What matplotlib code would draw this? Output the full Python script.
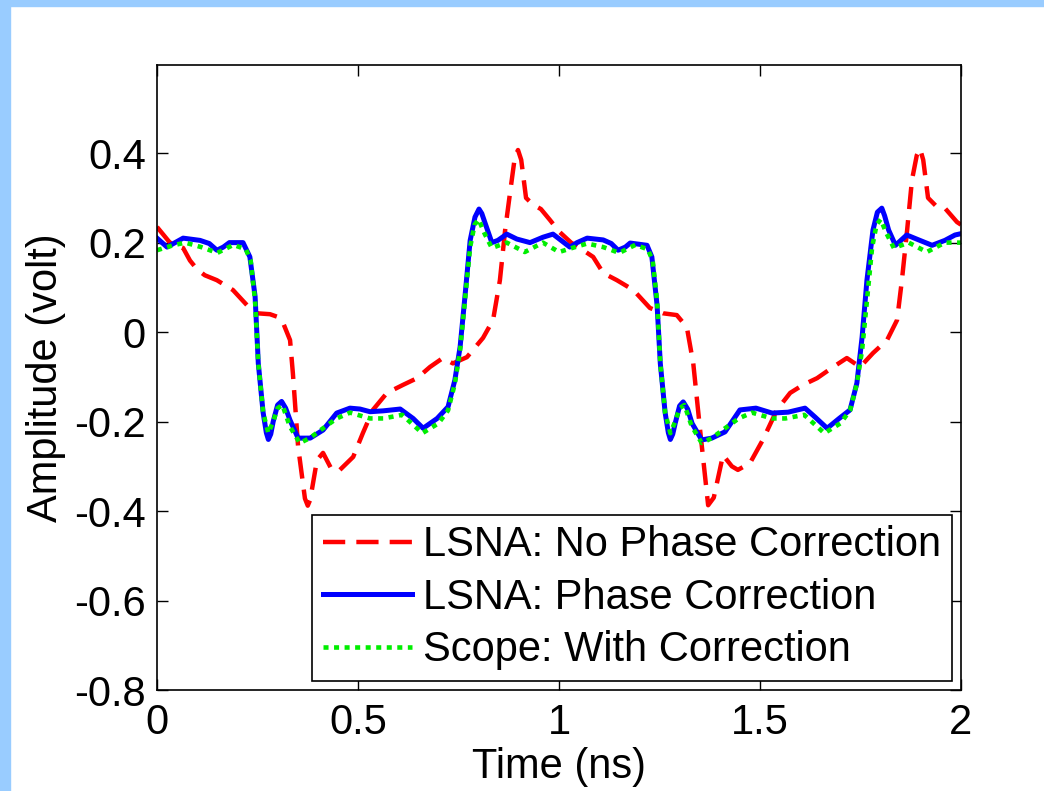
import matplotlib
matplotlib.use('Agg')
import matplotlib.pyplot as plt
from matplotlib.patches import Rectangle

# LSNA without phase correction (red dashed)
t_nopc = [0.0, 0.032, 0.065, 0.082, 0.1, 0.119, 0.149, 0.189, 0.224, 0.249, 0.281,
          0.3, 0.313, 0.331, 0.338, 0.351, 0.368, 0.375, 0.381, 0.398, 0.413, 0.435, 0.455,
          0.488, 0.512, 0.537, 0.572, 0.612, 0.647, 0.679, 0.711, 0.736, 0.771,
          0.811, 0.836, 0.853, 0.866, 0.878, 0.89, 0.898, 0.906, 0.918, 0.935, 0.955, 0.978,
          1.0, 1.03, 1.06, 1.085, 1.11, 1.144, 1.185, 1.226, 1.259, 1.293,
          1.318, 1.334, 1.351, 1.371, 1.385, 1.408, 1.43, 1.445, 1.475, 1.507,
          1.542, 1.575, 1.607, 1.642, 1.682, 1.716, 1.749, 1.781, 1.816, 1.841,
          1.853, 1.866, 1.878, 1.89, 1.898, 1.906, 1.918, 1.94, 1.96, 1.99, 2.0]
v_nopc = [0.235, 0.2, 0.188, 0.16, 0.14, 0.127, 0.116, 0.094, 0.06, 0.042, 0.04,
          0.034, 0.022, -0.018, -0.092, -0.256, -0.372, -0.388, -0.375, -0.286, -0.27, -0.308, -0.308,
          -0.279, -0.226, -0.174, -0.136, -0.118, -0.103, -0.078, -0.058, -0.07, -0.056,
          -0.013, 0.027, 0.116, 0.228, 0.31, 0.39, 0.407, 0.385, 0.3, 0.285, 0.275, 0.25,
          0.225, 0.2, 0.183, 0.168, 0.132, 0.116, 0.094, 0.054, 0.042, 0.038,
          0.011, -0.07, -0.219, -0.387, -0.37, -0.275, -0.3, -0.308, -0.293, -0.241,
          -0.174, -0.136, -0.118, -0.103, -0.078, -0.058, -0.078, -0.047, -0.018, 0.027,
          0.116, 0.228, 0.34, 0.395, 0.41, 0.385, 0.3, 0.28, 0.277, 0.246, 0.24]

# LSNA with phase correction (blue solid)
t_pc = [0.0, 0.025, 0.045, 0.065, 0.107, 0.13, 0.149, 0.165, 0.18, 0.214, 0.231, 0.244, 0.252,
        0.264, 0.272, 0.277, 0.283, 0.289, 0.3, 0.31, 0.32, 0.331, 0.351, 0.381, 0.413, 0.447, 0.48,
        0.505, 0.53, 0.563, 0.605, 0.637, 0.662, 0.697, 0.724, 0.741, 0.754,
        0.766, 0.779, 0.791, 0.801, 0.808, 0.816, 0.833, 0.848, 0.87, 0.895, 0.928,
        0.96, 0.985, 1.027, 1.045, 1.07, 1.11, 1.13, 1.147, 1.165, 1.177, 1.219, 1.231, 1.244,
        1.252, 1.264, 1.272, 1.277, 1.283, 1.289, 1.3, 1.309, 1.32, 1.331, 1.355, 1.38, 1.413, 1.45,
        1.49, 1.53, 1.57, 1.612, 1.637, 1.667, 1.697, 1.724, 1.741, 1.754,
        1.766, 1.781, 1.792, 1.803, 1.81, 1.82, 1.837, 1.865, 1.895, 1.928, 1.96, 1.985, 2.0]
v_pc = [0.21, 0.19, 0.2, 0.21, 0.205, 0.198, 0.183, 0.19, 0.2, 0.2, 0.168, 0.08, -0.07,
        -0.18, -0.225, -0.24, -0.228, -0.2, -0.163, -0.155, -0.17, -0.197, -0.237, -0.237, -0.219, -0.181, -0.17,
        -0.172, -0.178, -0.176, -0.172, -0.193, -0.215, -0.193, -0.167, -0.107, -0.033,
        0.079, 0.205, 0.257, 0.275, 0.265, 0.244, 0.2, 0.205, 0.219, 0.208, 0.2,
        0.212, 0.219, 0.19, 0.2, 0.21, 0.206, 0.198, 0.183, 0.19, 0.199, 0.194, 0.168, 0.06,
        -0.07, -0.18, -0.225, -0.24, -0.228, -0.204, -0.165, -0.156, -0.172, -0.204, -0.241, -0.237, -0.223, -0.174,
        -0.17, -0.181, -0.179, -0.17, -0.19, -0.215, -0.193, -0.174, -0.114, -0.011,
        0.116, 0.228, 0.268, 0.277, 0.26, 0.228, 0.194, 0.217, 0.206, 0.194, 0.205, 0.217, 0.22]

# Scope measurement (green dotted)
t_scope = [0.0, 0.04, 0.07, 0.11, 0.15, 0.19, 0.221, 0.233, 0.244, 0.252,
           0.264, 0.277, 0.289, 0.3, 0.312, 0.33, 0.355, 0.38, 0.413, 0.447, 0.48,
           0.53, 0.563, 0.61, 0.66, 0.7, 0.724, 0.741, 0.754, 0.766, 0.779,
           0.79, 0.8, 0.815, 0.833, 0.87, 0.915, 0.96, 1.0, 1.04, 1.07,
           1.11, 1.15, 1.19, 1.221, 1.233, 1.244, 1.252, 1.264, 1.277, 1.289, 1.3,
           1.312, 1.33, 1.355, 1.38, 1.413, 1.447, 1.48, 1.53, 1.563, 1.61,
           1.66, 1.7, 1.724, 1.741, 1.754, 1.766, 1.779, 1.79, 1.8, 1.815,
           1.833, 1.87, 1.915, 1.96, 2.0]
v_scope = [0.183, 0.194, 0.2, 0.19, 0.177, 0.195, 0.185, 0.16, 0.07, -0.07,
           -0.18, -0.226, -0.2, -0.17, -0.163, -0.21, -0.248, -0.237, -0.215, -0.193, -0.18,
           -0.193, -0.193, -0.185, -0.226, -0.204, -0.175, -0.115, -0.04, 0.07, 0.19,
           0.24, 0.252, 0.22, 0.188, 0.2, 0.179, 0.2, 0.179, 0.19, 0.198,
           0.19, 0.177, 0.195, 0.185, 0.16, 0.07, -0.07, -0.18, -0.226, -0.2, -0.17,
           -0.163, -0.21, -0.248, -0.237, -0.215, -0.193, -0.18, -0.193, -0.193, -0.185,
           -0.226, -0.204, -0.175, -0.115, -0.04, 0.07, 0.19, 0.24, 0.252, 0.22,
           0.188, 0.2, 0.179, 0.2, 0.2]

xticks = [0, 0.5, 1, 1.5, 2]
xtick_labels = ['0', '0.5', '1', '1.5', '2']
yticks = [-0.8, -0.6, -0.4, -0.2, 0, 0.2, 0.4]
ytick_labels = ['-0.8', '-0.6', '-0.4', '-0.2', '0', '0.2', '0.4']

plt.rcParams['font.family'] = ['Liberation Sans', 'DejaVu Sans']
plt.rcParams['font.size'] = 30

fig = plt.figure(figsize=(10.44, 7.91), dpi=100)
fig.patches.append(Rectangle((0, 1 - 6 / 791), 1, 6 / 791, transform=fig.transFigure,
                             color='#99CCFF', zorder=0))
fig.patches.append(Rectangle((0, 0), 10 / 1044, 1, transform=fig.transFigure,
                             color='#99CCFF', zorder=0))

ax = fig.add_axes([157 / 1044, 101 / 791, 804 / 1044, 625 / 791])

ax.plot(t_nopc, v_nopc, color='#FF0000', lw=3.2, dashes=(5, 2.5),
        dash_joinstyle='round', label='LSNA: No Phase Correction')
ax.plot(t_pc, v_pc, color='#0000FF', lw=3.6, solid_joinstyle='round',
        label='LSNA: Phase Correction')
ax.plot(t_scope, v_scope, color='#00EE00', lw=3.3, dashes=(1.1, 1.2),
        dash_joinstyle='round', label='Scope: With Correction')

ax.set_xlim(0, 2)
ax.set_ylim(-0.8, 0.597)
ax.set_xticks(xticks)
ax.set_xticklabels(xtick_labels)
ax.set_yticks(yticks)
ax.set_yticklabels(ytick_labels)
ax.tick_params(direction='in', length=8, width=1, top=True, right=True)
ax.tick_params(axis='x', pad=9)
ax.tick_params(axis='y', pad=8)
for s in ax.spines.values():
    s.set_linewidth(1.2)

ax.set_xlabel('Time (ns)', labelpad=3)
ax.set_ylabel('Amplitude (volt)', labelpad=6)

leg = ax.legend(loc='lower right', fancybox=False, edgecolor='black', framealpha=1,
                handlelength=2.15, handletextpad=0.26, labelspacing=0.3,
                borderpad=0.25, borderaxespad=0.22)
leg.get_frame().set_linewidth(1.2)

fig.savefig('out.png', dpi=100)
